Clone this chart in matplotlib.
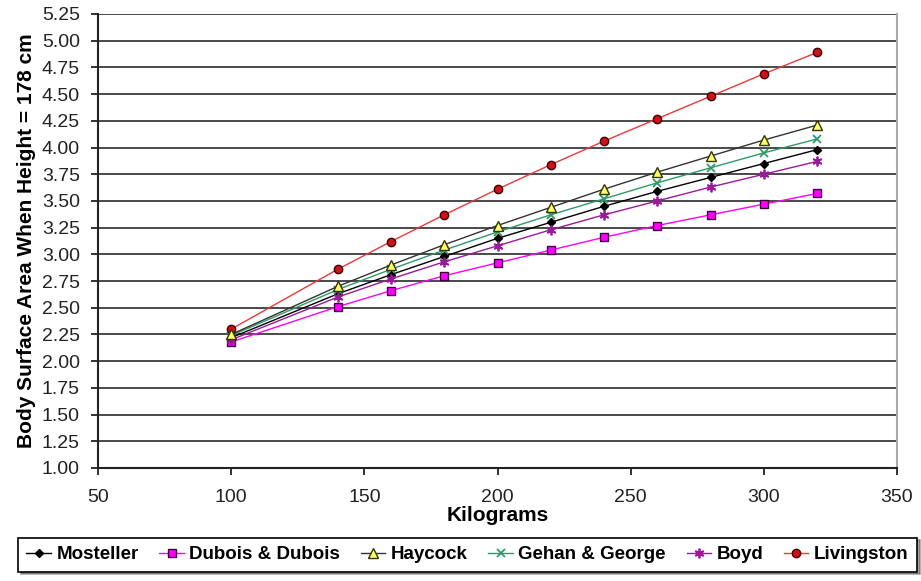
import matplotlib
matplotlib.use("Agg")
import matplotlib.pyplot as plt

# weights (kg) and body surface area values
kg = [100, 140, 160, 180, 200, 220, 240, 260, 280, 300, 320]
mosteller = [2.22, 2.63, 2.81, 2.98, 3.15, 3.30, 3.45, 3.59, 3.72, 3.85, 3.98]
dubois = [2.18, 2.51, 2.66, 2.80, 2.92, 3.04, 3.16, 3.27, 3.37, 3.47, 3.57]
haycock = [2.25, 2.70, 2.90, 3.09, 3.27, 3.44, 3.61, 3.77, 3.92, 4.07, 4.21]
gehan = [2.24, 2.67, 2.86, 3.04, 3.21, 3.37, 3.52, 3.67, 3.81, 3.95, 4.08]
boyd = [2.20, 2.60, 2.77, 2.93, 3.08, 3.23, 3.37, 3.50, 3.63, 3.75, 3.87]
livingston = [2.30, 2.86, 3.12, 3.37, 3.61, 3.84, 4.06, 4.27, 4.48, 4.69, 4.89]

yticks = [1.00 + 0.25 * i for i in range(18)]
xticks = [50, 100, 150, 200, 250, 300, 350]

plt.rcParams['font.family'] = ['Liberation Sans', 'DejaVu Sans']

fig = plt.figure(figsize=(9.21, 5.81), dpi=100)
ax = fig.add_axes([98 / 921, 113 / 581, 799 / 921, 454 / 581])

ax.plot(kg, mosteller, color='black', lw=1, marker='D', ms=4.5,
        mfc='black', mec='black', label='Mosteller', zorder=5)
ax.plot(kg, dubois, color='#ff00ff', lw=1, marker='s', ms=6,
        mfc='#ff00ff', mec='#400040', mew=1, label='Dubois & Dubois', zorder=4)
ax.plot(kg, haycock, color='#333333', lw=1, marker='^', ms=6.5,
        mfc='#ffff66', mec='#333300', mew=1, label='Haycock', zorder=6)
ax.plot(kg, gehan, color='#2e9a6a', lw=1, marker='x', ms=5.5,
        mew=1.3, label='Gehan & George', zorder=5)
ax.plot(kg, boyd, color='#9a1a9a', lw=1, marker=(6, 2, 0), ms=7,
        mew=1.3, label='Boyd', zorder=5)
ax.plot(kg, livingston, color='#e83a3a', lw=1, marker='o', ms=6,
        mfc='#d0101a', mec='#400000', mew=1, label='Livingston', zorder=5)

ax.set_xlim(50, 350)
ax.set_ylim(1.0, 5.25)
ax.set_xticks(xticks)
ax.set_yticks(yticks)
ax.set_yticklabels([f'{v:.2f}' for v in yticks])
ax.yaxis.grid(True, color='#3a3a3a', lw=1.3)
ax.set_axisbelow(True)
ax.tick_params(axis='both', direction='out', length=5, width=1.3,
               labelsize=14, colors='#222222')
ax.tick_params(axis='x', pad=10)
ax.tick_params(axis='y', pad=8)

for s in ['left', 'bottom']:
    ax.spines[s].set_color('#222222')
    ax.spines[s].set_linewidth(1.5)
ax.spines['right'].set_color('#aaaaaa')
ax.spines['right'].set_linewidth(1.5)
ax.spines['top'].set_visible(False)

ax.set_xlabel('Kilograms', fontsize=15, fontweight='bold', labelpad=0)
ax.set_ylabel('Body Surface Area When Height = 178 cm', fontsize=15,
              fontweight='bold', labelpad=4)

leg = fig.legend(loc='center', ncol=6, mode='expand',
                 bbox_to_anchor=(18 / 921, 7 / 581, 899 / 921, 39 / 581),
                 prop={'weight': 'bold', 'size': 13.5}, handlelength=1.3,
                 handletextpad=0.3, columnspacing=0.4, fancybox=False,
                 shadow=True, frameon=True, borderpad=0.45,
                 borderaxespad=0)
leg.get_frame().set_edgecolor('black')
leg.get_frame().set_linewidth(1.2)

fig.savefig('out.png', dpi=100)
